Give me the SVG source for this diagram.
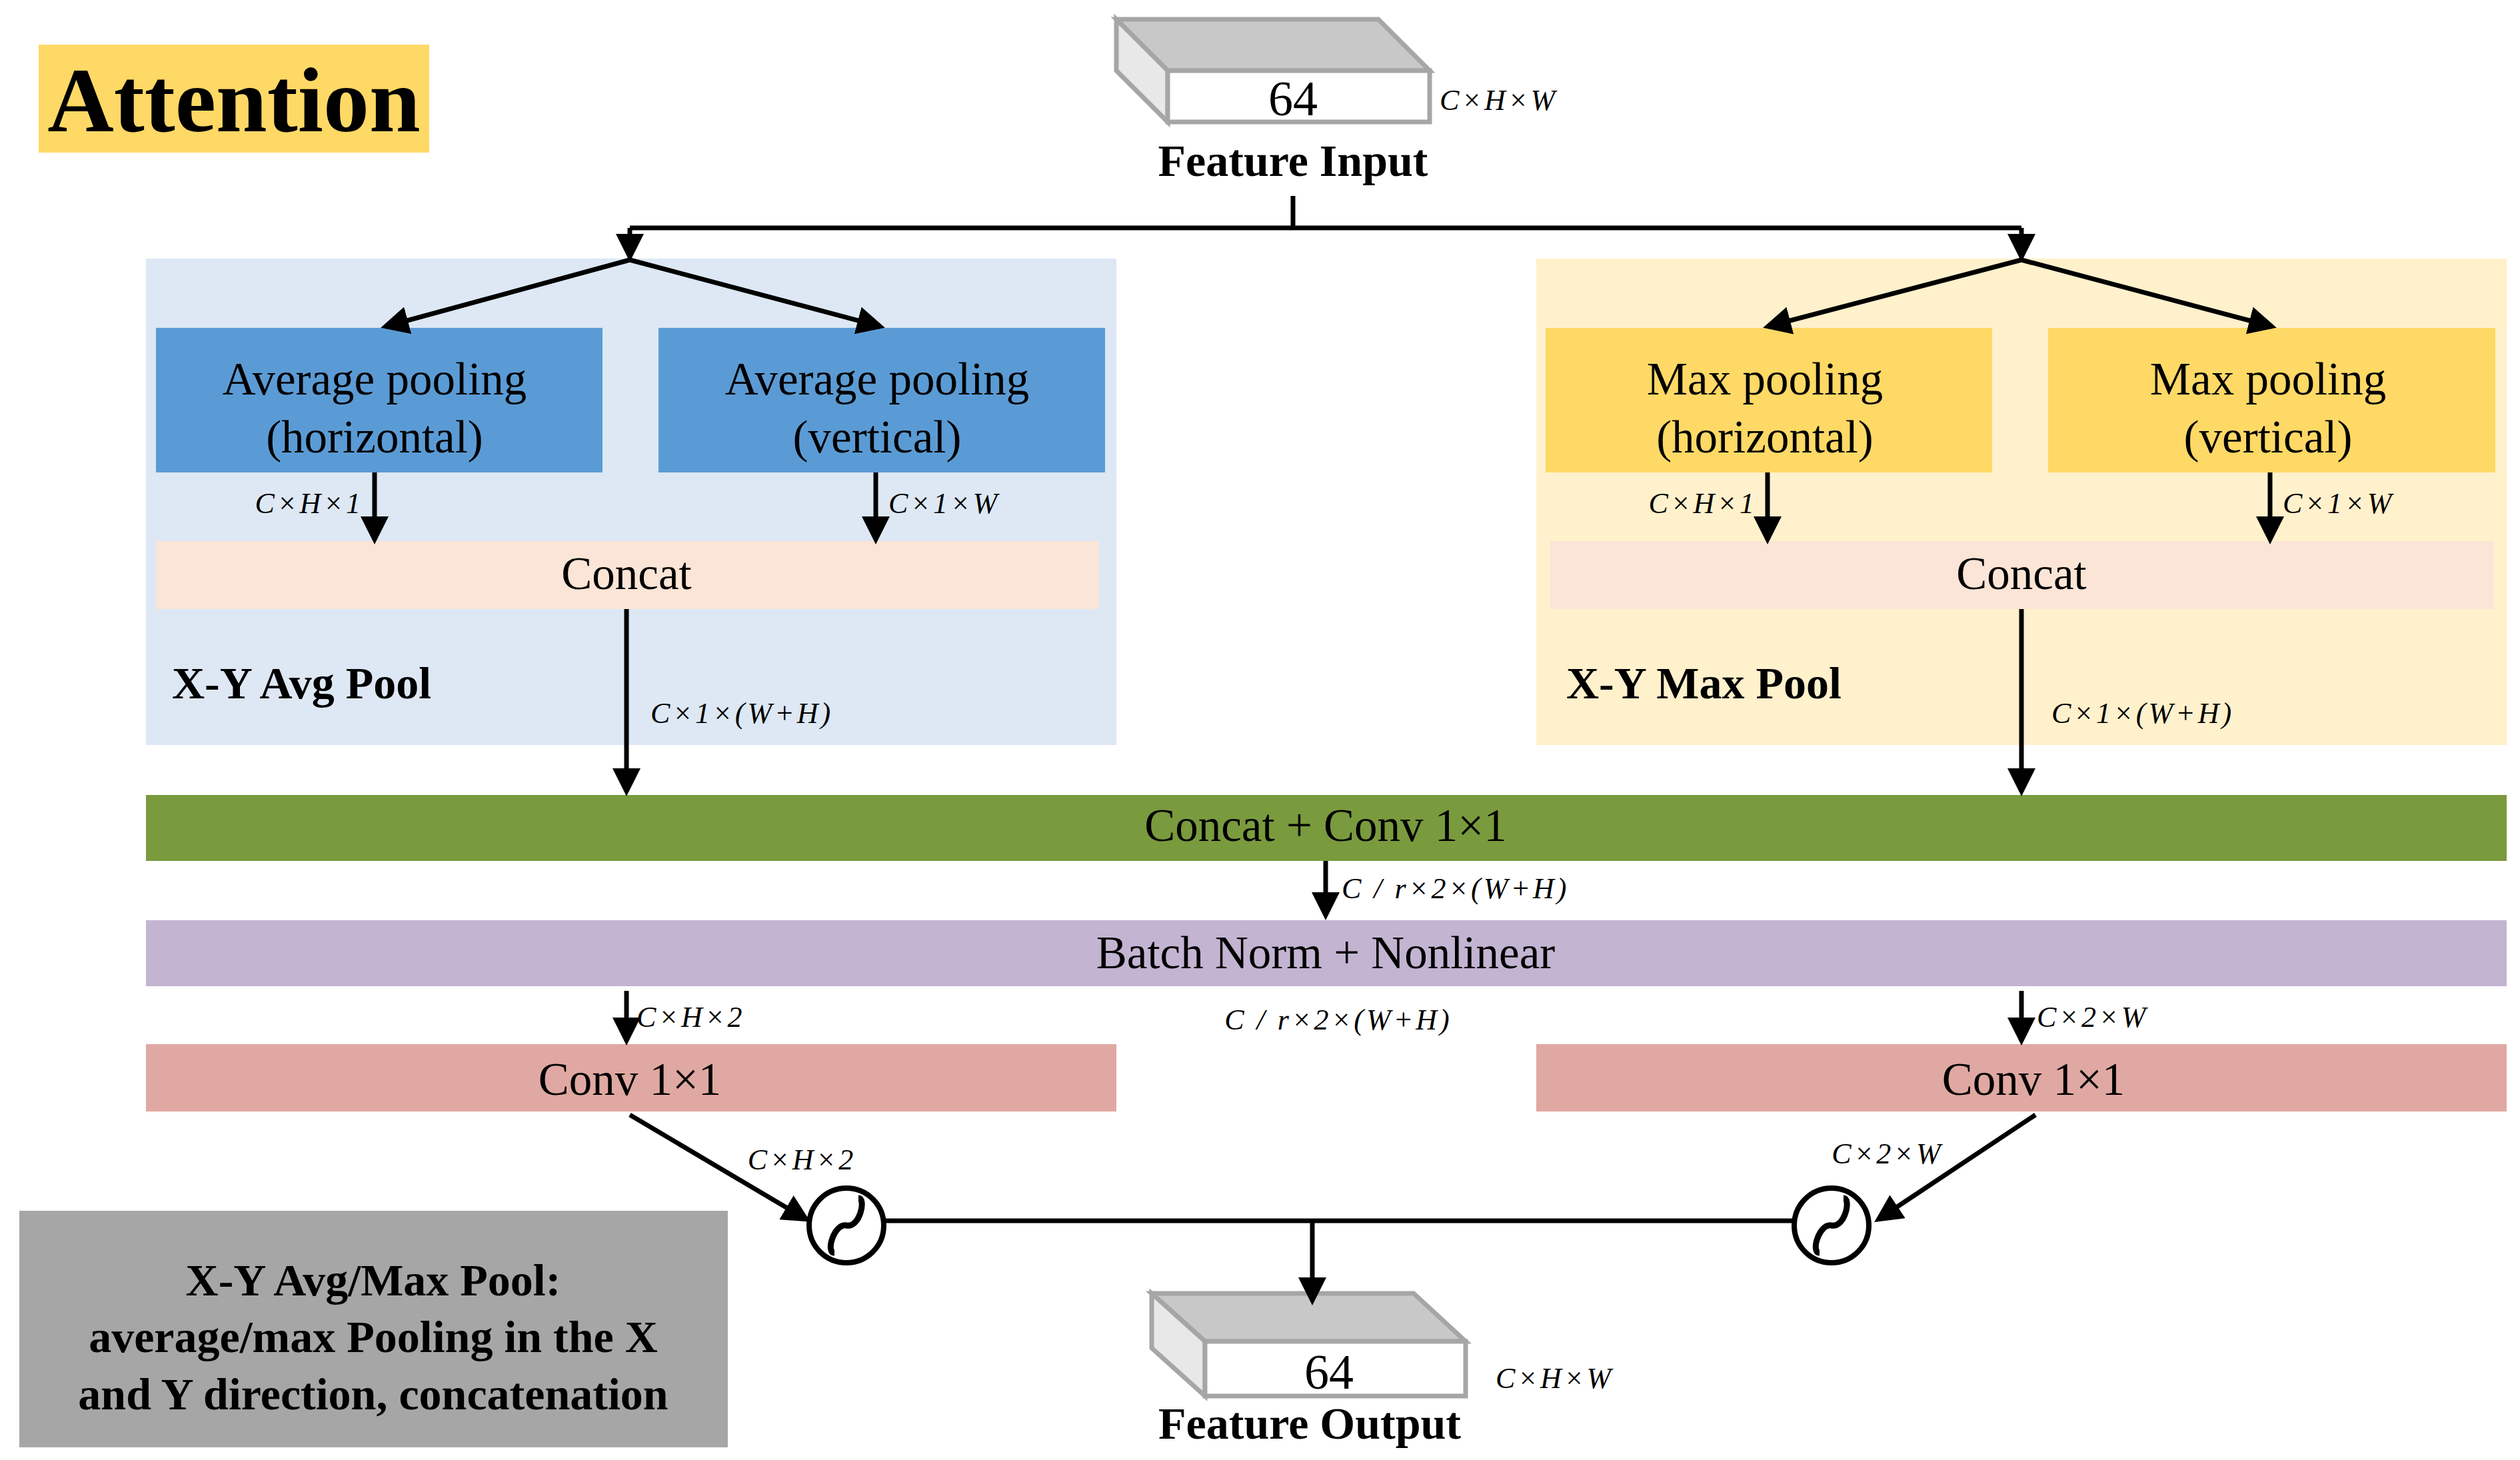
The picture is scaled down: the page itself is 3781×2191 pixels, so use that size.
<svg xmlns="http://www.w3.org/2000/svg" width="3781" height="2191" viewBox="0 0 3781 2191">
<defs>
<style>
text{font-family:"Liberation Serif","Times New Roman",serif;fill:#000}
.t{font-size:69px;text-anchor:middle;dominant-baseline:central}
.b{font-size:68px;font-weight:bold}
.d{font-size:44px;font-style:italic;dominant-baseline:central;letter-spacing:4px}
.l{stroke:#000;stroke-width:7;fill:none}
.a{stroke:#000;stroke-width:7;fill:none;marker-end:url(#ah)}
.blk{stroke:#a6a6a6;stroke-width:7}
</style>
<marker id="ah" markerWidth="6" markerHeight="6" refX="5" refY="3" orient="auto" markerUnits="strokeWidth"><path d="M0,0 L6,3 L0,6 z" fill="#000"/></marker>
</defs>
<rect width="3781" height="2191" fill="#fff"/>
<g id="title"><rect x="58" y="67" width="586" height="162" fill="#ffd966"/><text x="351" y="150" style="font-size:138px;font-weight:bold;text-anchor:middle;dominant-baseline:central">Attention</text></g>
<g id="panels"><rect x="219" y="388" width="1456" height="730" fill="#dde8f4"/><rect x="2305" y="388" width="1456" height="730" fill="#fff1cc"/>
<text x="258" y="1025" class="b" dominant-baseline="central">X-Y Avg Pool</text><text x="2350" y="1025" class="b" dominant-baseline="central">X-Y Max Pool</text></g>
<g id="input"><polygon class="blk" points="1675,29 2068,29 2145,106 1752,106" fill="#c8c8c8"/><polygon class="blk" points="1675,29 1752,106 1752,183 1675,106" fill="#e8e8e8"/><rect class="blk" x="1752" y="106" width="393" height="77" fill="#fff"/>
<text x="1940" y="148" class="t" style="font-size:74px">64</text><text x="2160" y="150" class="d">C×H×W</text>
<text x="1940" y="241" class="b" text-anchor="middle" dominant-baseline="central">Feature Input</text></g>
<g id="avgH"><rect x="234" y="492" width="670" height="217" fill="#5b9bd5"/><text x="562" y="569" class="t">Average pooling</text><text x="562" y="656" class="t">(horizontal)</text></g>
<g id="avgV"><rect x="988" y="492" width="670" height="217" fill="#5b9bd5"/><text x="1316" y="569" class="t">Average pooling</text><text x="1316" y="656" class="t">(vertical)</text></g>
<g id="maxH"><rect x="2319" y="492" width="670" height="217" fill="#ffd966"/><text x="2648" y="569" class="t">Max pooling</text><text x="2648" y="656" class="t">(horizontal)</text></g>
<g id="maxV"><rect x="3073" y="492" width="671" height="217" fill="#ffd966"/><text x="3403" y="569" class="t">Max pooling</text><text x="3403" y="656" class="t">(vertical)</text></g>
<g id="concatL"><rect x="234" y="812" width="1415" height="102" fill="#fbe5d6"/><text x="940" y="861" class="t">Concat</text></g>
<g id="concatR"><rect x="2326" y="812" width="1415" height="102" fill="#fbe5d6"/><text x="3033" y="861" class="t">Concat</text></g>
<g id="conv"><rect x="219" y="1193" width="3542" height="99" fill="#7a9a3e"/><text x="1989" y="1239" class="t">Concat + Conv 1×1</text></g>
<g id="bn"><rect x="219" y="1381" width="3542" height="99" fill="#c3b4d2"/><text x="1989" y="1430" class="t">Batch Norm + Nonlinear</text></g>
<g id="convL"><rect x="219" y="1567" width="1456" height="101" fill="#e0a8a2"/><text x="945" y="1620" class="t">Conv 1×1</text></g>
<g id="convR"><rect x="2305" y="1567" width="1456" height="101" fill="#e0a8a2"/><text x="3051" y="1620" class="t">Conv 1×1</text></g>
<g id="sig1"><circle cx="1270" cy="1839" r="56" fill="#fff" stroke="#000" stroke-width="8"/><path stroke="#000" stroke-width="9" fill="none" d="M1252,1880 C1238,1880 1252,1835 1270,1839 C1290,1843 1300,1798 1288,1798"/></g>
<g id="sig2"><circle cx="2748" cy="1839" r="56" fill="#fff" stroke="#000" stroke-width="8"/><path stroke="#000" stroke-width="9" fill="none" d="M2730,1880 C2716,1880 2730,1835 2748,1839 C2768,1843 2778,1798 2766,1798"/></g>
<g id="output"><polygon class="blk" points="1728,1941 2121,1941 2199,2013 1808,2013" fill="#c8c8c8"/><polygon class="blk" points="1728,1941 1808,2013 1808,2095 1728,2023" fill="#e8e8e8"/><rect class="blk" x="1808" y="2013" width="391" height="82" fill="#fff"/>
<text x="1994" y="2059" class="t" style="font-size:74px">64</text><text x="2244" y="2068" class="d">C×H×W</text>
<text x="1965" y="2136" class="b" text-anchor="middle" dominant-baseline="central">Feature Output</text></g>
<g id="legend"><rect x="29" y="1817" width="1063" height="355" fill="#a6a6a6"/>
<text x="560" y="1921" class="b" text-anchor="middle" dominant-baseline="central">X-Y Avg/Max Pool:</text>
<text x="560" y="2006" class="b" text-anchor="middle" dominant-baseline="central">average/max Pooling in the X</text>
<text x="560" y="2092" class="b" text-anchor="middle" dominant-baseline="central">and Y direction, concatenation</text></g>
<g id="connectors">
<path class="l" d="M1940,294 V342 M945,342 H3033"/>
<path class="a" d="M945,342 V386"/><path class="a" d="M3033,342 V386"/>
<path class="a" d="M945,390 L1321,490"/><path class="a" d="M945,390 L578,490"/>
<path class="a" d="M3033,390 L2652,490"/><path class="a" d="M3033,390 L3409,490"/>
<path class="a" d="M562,709 V810"/><path class="a" d="M1314,709 V810"/>
<path class="a" d="M2652,709 V810"/><path class="a" d="M3406,709 V810"/>
<path class="a" d="M940,914 V1188"/><path class="a" d="M3033,914 V1188"/>
<path class="a" d="M1989,1292 V1374"/>
<path class="a" d="M940,1487 V1562"/><path class="a" d="M3033,1487 V1562"/>
<path class="a" d="M945,1673 L1210,1830"/><path class="a" d="M3054,1673 L2818,1830"/>
<path class="l" d="M1326,1832 H2692"/>
<path class="a" d="M1969,1832 V1952"/>
<text x="545" y="755" class="d" text-anchor="end">C×H×1</text><text x="1333" y="755" class="d">C×1×W</text>
<text x="2636" y="755" class="d" text-anchor="end">C×H×1</text><text x="3425" y="755" class="d">C×1×W</text>
<text x="976" y="1070" class="d">C×1×(W+H)</text><text x="3078" y="1070" class="d">C×1×(W+H)</text>
<text x="2013" y="1333" class="d">C / r×2×(W+H)</text>
<text x="955" y="1526" class="d">C×H×2</text><text x="3056" y="1526" class="d">C×2×W</text>
<text x="2008" y="1530" class="d" text-anchor="middle">C / r×2×(W+H)</text>
<text x="1203" y="1740" class="d" text-anchor="middle">C×H×2</text><text x="2832" y="1731" class="d" text-anchor="middle">C×2×W</text>
</g>
</svg>
